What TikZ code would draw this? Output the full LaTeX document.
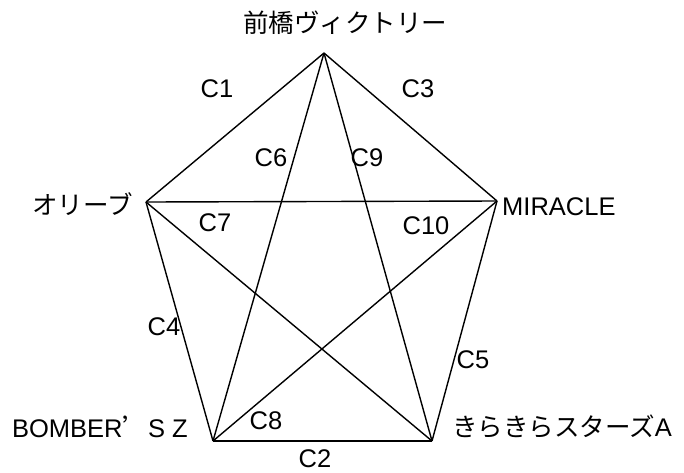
\documentclass[tikz,border=0pt]{standalone}
\usepackage{fontspec}
\setmainfont{Liberation Sans}
\newfontfamily\jp{Noto Sans CJK JP}
\newfontfamily\jpfw[RawFeature=+fwid]{Noto Sans CJK JP}
\begin{document}
\begin{tikzpicture}[x=1pt,y=-1pt,font=\fontsize{25.5}{30}\selectfont]
% round-robin pentagon, coordinates in pixels of the 684x472 sheet
\tikzset{team/.style={inner sep=0pt},
 matchlbl/.style={inner sep=0pt},
 match/.style={line width=1.4pt,line join=miter}}
\useasboundingbox (0,0) rectangle (684,472);
\coordinate (mae) at (324,53);
\coordinate (oli) at (146,202);
\coordinate (mir) at (497,201);
\coordinate (bom) at (213,441);
\coordinate (kir) at (432,441);
% outer edges
\draw[match] (mae) -- (oli);
\draw[match] (mae) -- (mir);
\draw[match] (oli) -- (bom);
\draw[match] (mir) -- (kir);
\draw[match] (bom) -- (kir);
% inner star
\draw[match] (mae) -- (bom);
\draw[match] (mae) -- (kir);
\draw[match] (oli) -- (mir);
\draw[match] (oli) -- (kir);
\draw[match] (mir) -- (bom);
% teams
\node[team] (tmae) at (345,23) {\jp 前橋ヴィクトリー};
\node[team,anchor=east] (toli) at (133,204) {\jp オリーブ};
\node[team,anchor=west] (tmir) at (502,207) {MIRACLE};
\node[team,anchor=east] (tbom) at (188,427) {BOMBER{\jpfw ’}S Z};
\node[team,anchor=west] (tkir) at (452,427) {{\jp きらきらスターズ}A};
% matches
\node[matchlbl] (c1) at (217,89) {C1};
\node[matchlbl] (c3) at (418,89) {C3};
\node[matchlbl] (c6) at (271,158) {C6};
\node[matchlbl] (c9) at (367,158) {C9};
\node[matchlbl] (c7) at (215,223) {C7};
\node[matchlbl] (c10) at (426,226) {C10};
\node[matchlbl] (c4) at (164,327) {C4};
\node[matchlbl] (c5) at (473,360) {C5};
\node[matchlbl] (c8) at (266,421) {C8};
\node[matchlbl] (c2) at (315,459) {C2};
\end{tikzpicture}
\end{document}
